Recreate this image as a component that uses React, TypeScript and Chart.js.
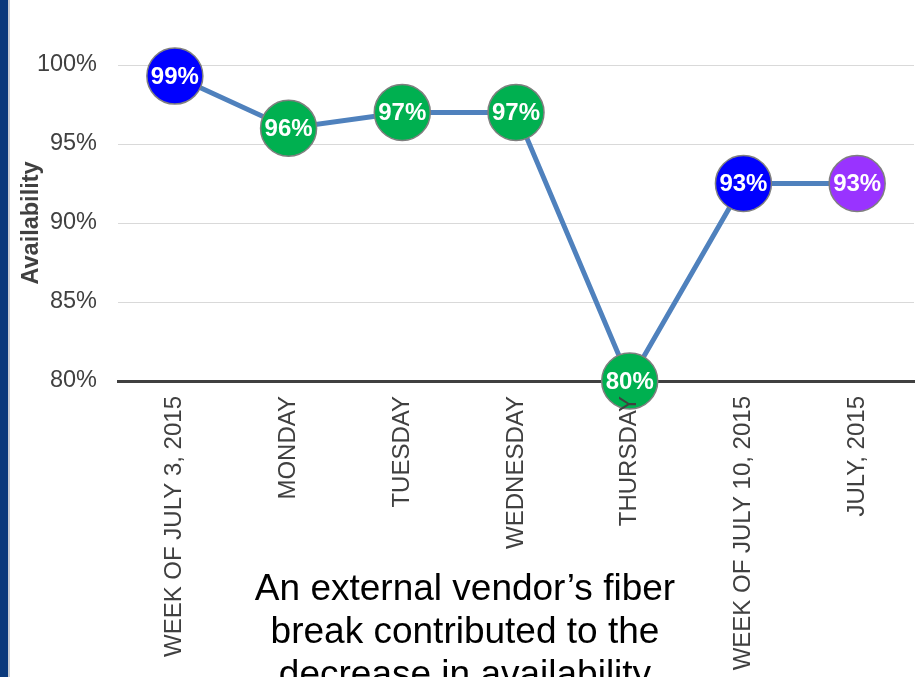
import React, { useEffect, useRef } from "react";
import { Chart, registerables } from "chart.js";

Chart.register(...registerables);

const categories = [
  "WEEK OF JULY 3, 2015",
  "MONDAY",
  "TUESDAY",
  "WEDNESDAY",
  "THURSDAY",
  "WEEK OF JULY 10, 2015",
  "JULY, 2015",
];
const availability = [99.3, 96.0, 97.0, 97.0, 80.0, 92.5, 92.5];
const pointLabels = ["99%", "96%", "97%", "97%", "80%", "93%", "93%"];
const pointColors = ["#0000FF", "#00B050", "#00B050", "#00B050", "#00B050", "#0000FF", "#9933FF"];
const yMin = 80;
const yMax = 100;
const yStep = 5;
const yTitle = "Availability";
const annotationLines = [
  "An external vendor’s fiber",
  "break contributed to the",
  "decrease in availability",
];

const FONT = '"Liberation Sans", Arial, Helvetica, sans-serif';

const labelPlugin = {
  id: "pointLabelsPlugin",
  afterDatasetsDraw(chart: any) {
    const meta = chart.getDatasetMeta(0);
    const ctx = chart.ctx;
    ctx.save();
    ctx.font = `bold 24px ${FONT}`;
    ctx.fillStyle = "#FFFFFF";
    ctx.textAlign = "center";
    ctx.textBaseline = "middle";
    meta.data.forEach((pt: any, i: number) => {
      ctx.fillText(pointLabels[i], pt.x, pt.y + 1);
    });
    ctx.restore();
  },
};

export default function App() {
  const canvasRef = useRef<HTMLCanvasElement | null>(null);

  useEffect(() => {
    if (!canvasRef.current) return;
    const chart = new Chart(canvasRef.current, {
      type: "line",
      data: {
        labels: categories,
        datasets: [
          {
            data: availability,
            borderColor: "#4F81BD",
            borderWidth: 5,
            pointRadius: 28,
            pointHoverRadius: 28,
            pointBackgroundColor: pointColors,
            pointBorderColor: "#7F7F7F",
            pointBorderWidth: 1.5,
            tension: 0,
            fill: false,
            clip: false as any,
          },
        ],
      },
      options: {
        animation: false,
        responsive: false,
        devicePixelRatio: 1,
        events: [],
        layout: { autoPadding: false, padding: { left: 0, top: 65, right: 10, bottom: 0 } },
        plugins: {
          legend: { display: false },
          tooltip: { enabled: false },
        },
        scales: {
          x: {
            offset: true,
            grid: { display: false, drawTicks: false },
            border: { display: true, color: "#404040", width: 3 },
            ticks: {
              autoSkip: false,
              minRotation: 90,
              maxRotation: 90,
              padding: 15,
              color: "#404040",
              font: { family: FONT, size: 24 },
              z: 1,
            },
            afterFit: (scale: any) => {
              scale.height = 296;
              scale.paddingLeft = 0;
              scale.paddingRight = 0;
            },
          },
          y: {
            min: yMin,
            max: yMax,
            grid: { color: "#D9D9D9", lineWidth: 1, drawTicks: false },
            border: { display: false },
            ticks: {
              stepSize: yStep,
              padding: 21,
              color: "#404040",
              font: { family: FONT, size: 23.5 },
              callback: (v: any) => `${v}%`,
            },
            title: {
              display: true,
              text: yTitle,
              color: "#404040",
              font: { family: FONT, size: 23.5, weight: "bold" },
              padding: { top: 17, bottom: 0 },
            },
            afterFit: (scale: any) => {
              scale.width = 118;
            },
          },
        },
      },
      plugins: [labelPlugin],
    });
    return () => chart.destroy();
  }, []);

  return (
    <div
      style={{
        position: "fixed",
        left: 0,
        top: 0,
        width: 924,
        height: 677,
        overflow: "hidden",
        background: "#FFFFFF",
      }}
    >
      <canvas ref={canvasRef} width={924} height={677} style={{ position: "absolute", left: 0, top: 0 }} />
      <div style={{ position: "absolute", left: 0, top: 0, width: 8, height: 677, background: "#0B3A7C" }} />
      <div style={{ position: "absolute", left: 8, top: 0, width: 2, height: 677, background: "#C9CDD3" }} />
      <div
        style={{
          position: "absolute",
          left: 215,
          top: 566,
          width: 500,
          textAlign: "center",
          fontFamily: FONT,
          fontSize: 37,
          lineHeight: "43px",
          color: "#000000",
          whiteSpace: "nowrap",
        }}
      >
        {annotationLines.map((l, i) => (
          <div key={i}>{l}</div>
        ))}
      </div>
    </div>
  );
}
